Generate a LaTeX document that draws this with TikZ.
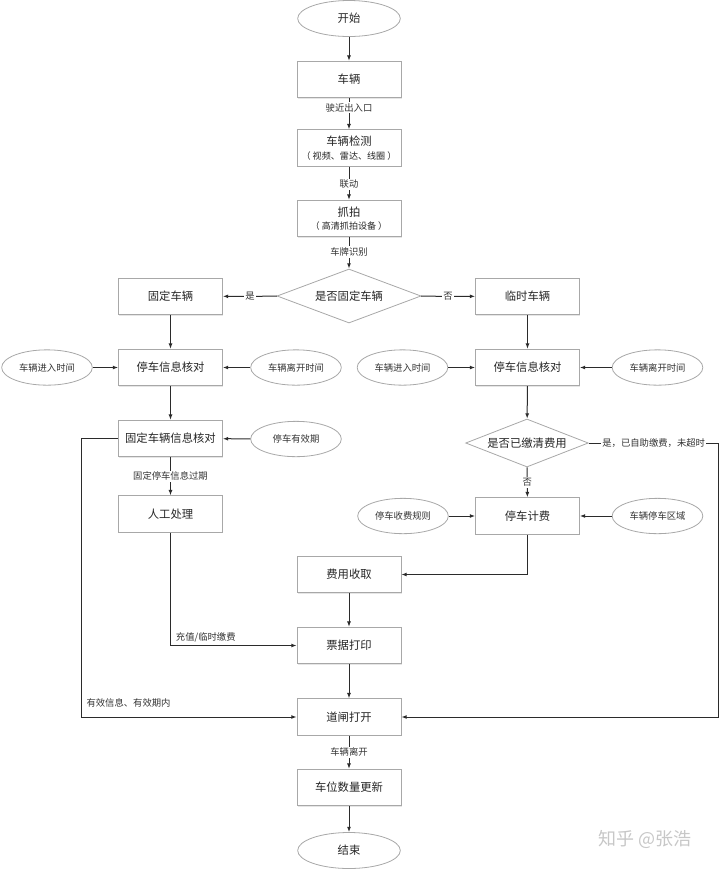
\documentclass[tikz,border=0pt]{standalone}
\usepackage{fontspec}
\setmainfont{Noto Sans CJK SC}
\usetikzlibrary{shapes.geometric,arrows.meta,shadows}
\definecolor{bordergray}{HTML}{A8A8A8}
\definecolor{linec}{HTML}{2B2B2B}
\begin{document}
\begin{tikzpicture}[x=0.75pt,y=-0.75pt,
  box/.style={draw=bordergray, line width=0.6pt, fill=white, minimum width=78pt, minimum height=27.5pt, inner sep=1pt, align=center,
    font=\fontsize{8.5pt}{11pt}\selectfont, text=black!85,
    drop shadow={shadow xshift=0.6pt,shadow yshift=-0.6pt,opacity=0.2}},
  term/.style={ellipse, draw=bordergray, line width=0.6pt, fill=white, minimum width=77pt, minimum height=27pt, inner sep=0pt,
    font=\fontsize{8.5pt}{11pt}\selectfont, text=black!85},
  side/.style={ellipse, draw=bordergray, line width=0.6pt, fill=white, minimum width=68pt, minimum height=26.5pt, inner sep=0pt,
    font=\fontsize{7pt}{8pt}\selectfont, text=black!80},
  dec/.style={diamond, draw=bordergray, line width=0.6pt, fill=white, aspect=2.6, inner sep=0pt,
    font=\fontsize{8.5pt}{11pt}\selectfont, text=black!85},
  arr/.style={draw=linec, line width=0.75pt, -{Latex[length=4pt,width=3pt]}},
  lbl/.style={fill=white, inner sep=1pt, font=\fontsize{7pt}{8pt}\selectfont, text=black!80}]
\useasboundingbox (0,0) rectangle (720,869);

% nodes
\node[term] (start) at (349,18.5) {开始};
\node[box] (car) at (349,79.5) {车辆};
\node[box] (detect) at (349,148) {车辆检测\\[-1pt]{\fontsize{6.8pt}{8pt}\selectfont （ 视频、雷达、线圈 ）}};
\node[box] (snap) at (349,218.5) {抓拍\\[-1pt]{\fontsize{6.8pt}{8pt}\selectfont （ 高清抓拍设备 ）}};
\node[dec, minimum width=108pt, minimum height=40.5pt] (d1) at (349,296) {是否固定车辆};
\node[box] (fixed) at (170.5,296.5) {固定车辆};
\node[box] (temp) at (527.5,296.5) {临时车辆};

\node[box] (chkL) at (170.5,367.5) {停车信息核对};
\node[side] (inL) at (47,367.5) {车辆进入时间};
\node[side] (outL) at (296,367.5) {车辆离开时间};
\node[box] (chkR) at (527.5,367.5) {停车信息核对};
\node[side] (inR) at (402.5,367.5) {车辆进入时间};
\node[side] (outR) at (657.5,367.5) {车辆离开时间};

\node[box] (fixchk) at (170.5,438.5) {固定车辆信息核对};
\node[side] (valid) at (296,439) {停车有效期};
\node[dec, minimum width=92pt, minimum height=36pt] (d2) at (527,443) {是否已缴清费用};

\node[box] (manual) at (170.5,514) {人工处理};
\node[box] (bill) at (527.5,516) {停车计费};
\node[side] (rule) at (403,516) {停车收费规则};
\node[side] (area) at (657.5,516) {车辆停车区域};

\node[box] (fee) at (349,574.5) {费用收取};
\node[box] (ticket) at (349,645.5) {票据打印};
\node[box] (gate) at (349,717) {道闸打开};
\node[box] (update) at (349,787.5) {车位数量更新};
\node[term] (end) at (349,850.5) {结束};

\node[text=black!22, font=\fontsize{13.5pt}{15pt}\selectfont] (wm) at (645,839) {知乎 @张浩};

% connectors
\draw[arr] (start) -- (car);
\draw[arr] (car) -- node[lbl,pos=0.3]{驶近出入口} (detect);
\draw[arr] (detect) -- node[lbl,pos=0.53]{联动} (snap);
\draw[arr] (snap) -- node[lbl,pos=0.47]{车牌识别} (d1);
\draw[arr] (d1) -- node[lbl]{是} (fixed);
\draw[arr] (d1) -- node[lbl]{否} (temp);

\draw[arr] (fixed) -- (chkL);
\draw[arr] (inL) -- (chkL);
\draw[arr] (outL) -- (chkL);
\draw[arr] (chkL) -- (fixchk);
\draw[arr] (valid) -- (fixchk);
\draw[arr] (fixchk) -- node[lbl]{固定停车信息过期} (manual);

\draw[arr] (temp) -- (chkR);
\draw[arr] (inR) -- (chkR);
\draw[arr] (outR) -- (chkR);
\draw[arr] (chkR) -- (d2);
\draw[arr] (d2) -- node[lbl]{否} (bill);
\draw[arr] (rule) -- (bill);
\draw[arr] (area) -- (bill);

\draw[arr] (bill.south) |- (fee.east);
\draw[arr] (fee) -- (ticket);
\draw[arr] (manual.south) |- node[lbl, fill=none, pos=0.64, anchor=south, yshift=1pt]{充值/临时缴费} (ticket.west);
\draw[arr] (ticket) -- (gate);
\draw[arr] (fixchk.west) -- ++(-37,0) |- node[lbl, fill=none, pos=0.61, anchor=south, yshift=6pt]{有效信息、有效期内} (gate.west);
\draw[arr] (d2.east) -- node[lbl]{是，已自助缴费，未超时} ++(130,0) |- (gate.east);
\draw[arr] (gate) -- node[lbl]{车辆离开} (update);
\draw[arr] (update) -- (end);
\end{tikzpicture}
\end{document}
